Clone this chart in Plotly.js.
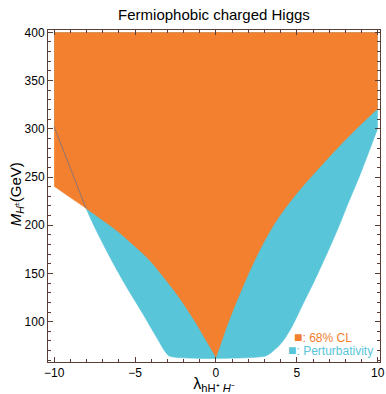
<!DOCTYPE html>
<html>
<head>
<meta charset="utf-8">
<script src="https://cdn.plot.ly/plotly-3.0.1.min.js"></script>
<style>html,body{margin:0;padding:0;background:#fff;}#chart{width:386px;height:394px;}</style>
</head>
<body>
<div id="chart"></div>
<script>
// 68% CL region: lower boundary, left branch (lambda, M_H+ in GeV), ends at the cusp
const cl68_left_x = [-10, -8.9, -8.03, -7.1, -6.17, -5.1, -4.11, -3.3, -2.46, -1.8, -1.22, -0.8, -0.5, -0.2, 0];
const cl68_left_y = [240.5, 227.6, 217.6, 206.4, 195.1, 179.5, 164, 147.5, 129.5, 113.5, 98.3, 86.2, 77.6, 69, 63.5];
// 68% CL region: lower boundary, right branch, from the cusp
const cl68_right_x = [0, 0.23, 0.74, 1.57, 2.5, 3.63, 4.8, 6.3, 8.2, 10];
const cl68_right_y = [63.5, 74, 98.3, 132.9, 167.4, 202, 229, 258, 292, 321];
// Perturbativity region: outer boundary
const pert_x = [-10, -9, -8.03, -7.0, -5.76, -4.52, -3.8, -3.5, -3.28, -3.05, -2.85, 2.9, 3.2, 3.5, 4.0, 4.6, 5.4, 6.3, 7.5, 8.2, 8.85, 10];
const pert_y = [302, 259.5, 217.6, 181.2, 142.8, 108.3, 87.5, 79, 72.5, 67, 64.2, 63.8, 65.5, 69, 77, 92, 119, 150, 195, 224, 250, 300.5];
// Upper edge of the scanned region
const scanTop = 400;

// part of the perturbativity boundary that shows through the 68% CL fill
const edge_x = pert_x.slice(0, 3);
const edge_y = pert_y.slice(0, 3);

const xTicks = [-10, -5, 0, 5, 10];
const xTickText = ['\u221210', '\u22125', '0', '5', '10'];
const yTicks = [100, 150, 200, 250, 300, 350, 400];

const orange = '#F2802E';
const blue = '#58C5D9';
const frame = '#5a3e36';
const FF = 'Liberation Sans, Arial, Helvetica, sans-serif';

function topLine(x0, x1) {
  return {x: [x0, x1], y: [scanTop, scanTop], type: 'scatter', mode: 'lines',
          line: {width: 0, color: 'rgba(0,0,0,0)'}, hoverinfo: 'skip', showlegend: false};
}
function region(xs, ys, color) {
  return {x: xs, y: ys, type: 'scatter', mode: 'lines', fill: 'tonexty', fillcolor: color,
          line: {color: color, width: 0.6, shape: 'spline', smoothing: 1}, hoverinfo: 'skip', showlegend: false};
}

const traces = [
  topLine(pert_x[0], pert_x[pert_x.length - 1]),
  region(pert_x, pert_y, blue),
  topLine(cl68_left_x[0], cl68_right_x[1]),
  region(cl68_left_x, cl68_left_y, orange),
  topLine(cl68_right_x[0], cl68_right_x[cl68_right_x.length - 1]),
  region(cl68_right_x, cl68_right_y, orange),
  {x: edge_x, y: edge_y, type: 'scatter', mode: 'lines',
   line: {color: 'rgba(95,110,150,0.85)', width: 0.8}, hoverinfo: 'skip', showlegend: false}
];

const layout = {
  width: 386, height: 394,
  margin: {l: 48, r: 6, t: 30, b: 32},
  paper_bgcolor: '#fff', plot_bgcolor: '#fff',
  font: {family: FF, size: 12, color: '#000'},
  showlegend: false,
  title: {text: 'Fermiophobic charged Higgs', x: 0.5, xref: 'paper', xanchor: 'center',
          y: 1 - 15 / 394, yref: 'container', yanchor: 'middle',
          font: {family: FF, size: 15, color: '#000'}},
  xaxis: {
    range: [-10.38, 10.14], tickvals: xTicks, ticktext: xTickText,
    ticks: 'inside', ticklen: 5, tickcolor: frame, tickwidth: 1,
    minor: {dtick: 1, ticks: 'inside', ticklen: 3, tickcolor: frame, tickwidth: 1, showgrid: false},
    showline: true, linecolor: frame, linewidth: 1, mirror: 'ticks',
    showgrid: false, zeroline: false,
    tickfont: {family: FF, size: 12, color: '#000'},
    title: {text: '\u03bb<sub>hH\u207a <i>H</i>\u207b</sub>', standoff: 3,
            font: {family: FF, size: 16, color: '#000'}}
  },
  yaxis: {
    range: [58.2, 402.4], tickvals: yTicks,
    ticks: 'inside', ticklen: 5, tickcolor: frame, tickwidth: 1,
    minor: {dtick: 10, ticks: 'inside', ticklen: 3, tickcolor: frame, tickwidth: 1, showgrid: false},
    showline: true, linecolor: frame, linewidth: 1, mirror: 'ticks',
    showgrid: false, zeroline: false,
    tickfont: {family: FF, size: 12, color: '#000'}
  },
  annotations: [
    {text: '<i>M</i><sub><i>H</i><sup>\u00b1</sup></sub>(GeV)', textangle: -90,
     xref: 'paper', yref: 'paper', x: -32 / 332, y: 0.505, xanchor: 'center', yanchor: 'middle',
     showarrow: false, font: {family: FF, size: 15, color: '#000'}},
    {text: '<span style="font-size:14px">\u25a0</span>: 68% CL', xref: 'paper', yref: 'paper', x: 0.735, y: 0.076,
     xanchor: 'left', yanchor: 'middle', showarrow: false,
     font: {family: FF, size: 12, color: orange}},
    {text: '<span style="font-size:14px">\u25a0</span>: Perturbativity', xref: 'paper', yref: 'paper', x: 0.716, y: 0.036,
     xanchor: 'left', yanchor: 'middle', showarrow: false,
     font: {family: FF, size: 12, color: blue}}
  ]
};

Plotly.newPlot('chart', traces, layout, {displayModeBar: false, staticPlot: true});
</script>
</body>
</html>
